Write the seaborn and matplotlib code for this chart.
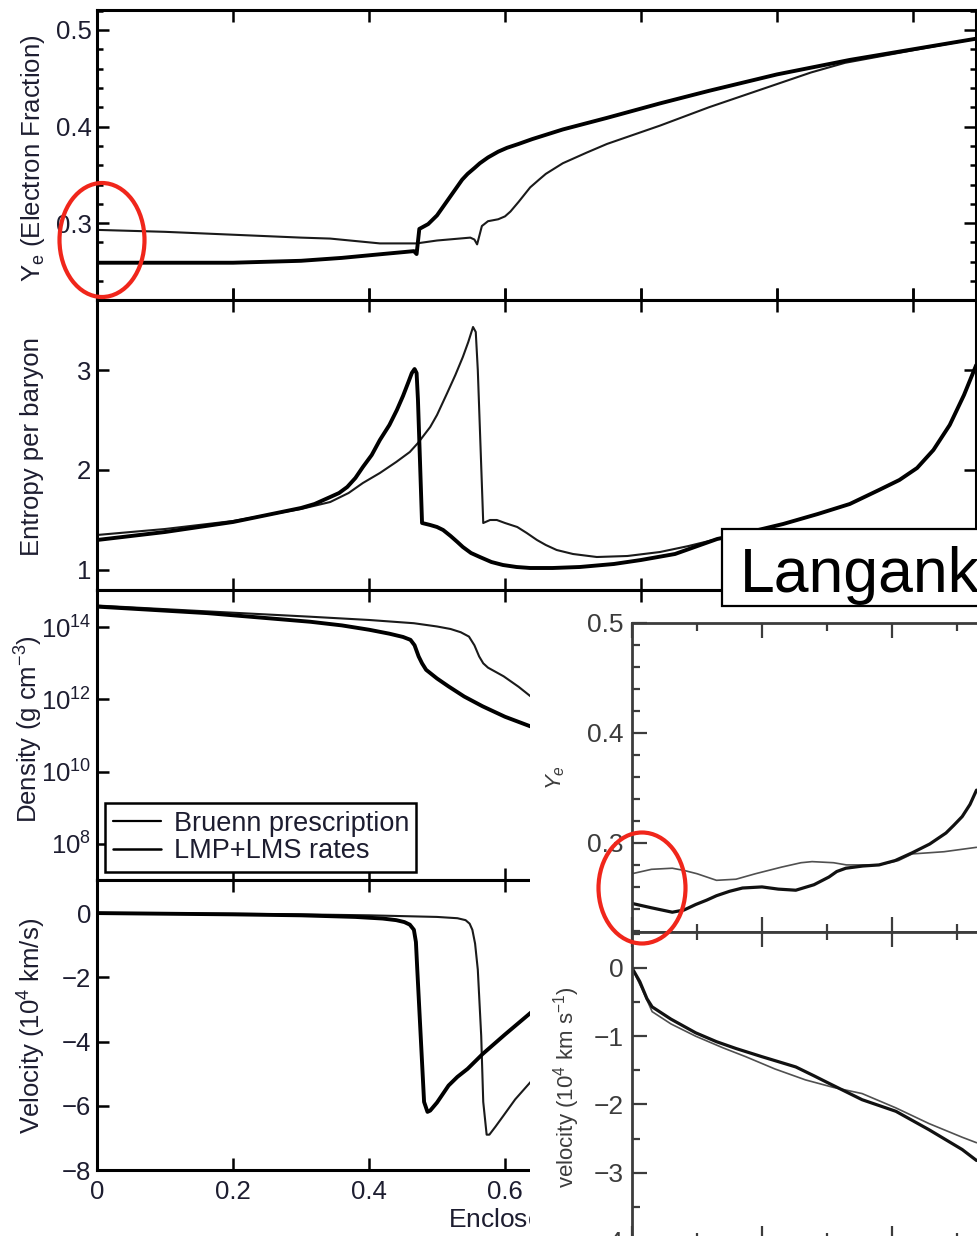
import numpy as np
import matplotlib
matplotlib.use("Agg")
import matplotlib.pyplot as plt
import seaborn as sns
from matplotlib.lines import Line2D
from matplotlib.patches import Rectangle, Ellipse
from matplotlib.ticker import (MultipleLocator, FixedLocator, NullLocator,
                               LogFormatterMathtext, FuncFormatter)

# ---------------------------------------------------------------------------
# Collapse profiles vs. enclosed mass (solar masses)
# "lmp" = LMP+LMS rates (heavy line), "bru" = Bruenn prescription (light line)
# ---------------------------------------------------------------------------
ye_lmp_mass = [0.00, 0.10, 0.20, 0.30, 0.36, 0.42, 0.466, 0.470, 0.474, 0.487, 0.500, 0.510,
               0.520, 0.529, 0.537, 0.545, 0.555, 0.563, 0.575, 0.590, 0.603, 0.620, 0.640,
               0.685, 0.750, 0.828, 0.900, 1.000, 1.107, 1.200, 1.293]
ye_lmp = [0.259, 0.259, 0.259, 0.261, 0.264, 0.268, 0.271, 0.268, 0.294, 0.299, 0.308, 0.318,
          0.328, 0.337, 0.345, 0.351, 0.357, 0.362, 0.368, 0.374, 0.378, 0.382, 0.387,
          0.397, 0.409, 0.424, 0.437, 0.454, 0.469, 0.480, 0.491]
ye_bru_mass = [0.00, 0.10, 0.20, 0.30, 0.343, 0.416, 0.470, 0.500, 0.549, 0.555, 0.559, 0.566,
               0.575, 0.590, 0.600, 0.608, 0.620, 0.637, 0.650, 0.660, 0.685, 0.720, 0.750,
               0.828, 0.900, 1.000, 1.050, 1.100, 1.200, 1.293]
ye_bru = [0.293, 0.291, 0.288, 0.285, 0.284, 0.279, 0.279, 0.282, 0.285, 0.283, 0.278, 0.297,
          0.302, 0.304, 0.307, 0.312, 0.322, 0.337, 0.345, 0.351, 0.362, 0.373, 0.382,
          0.401, 0.420, 0.444, 0.456, 0.466, 0.479, 0.491]

s_lmp_mass = [0.00, 0.10, 0.20, 0.30, 0.320, 0.343, 0.356, 0.368, 0.380, 0.391, 0.404, 0.416,
              0.430, 0.441, 0.450, 0.458, 0.463, 0.467, 0.470, 0.472, 0.478, 0.490, 0.500,
              0.509, 0.520, 0.530, 0.538, 0.550, 0.563, 0.580, 0.597, 0.617, 0.637, 0.670,
              0.710, 0.760, 0.800, 0.850, 0.912, 0.960, 1.009, 1.060, 1.107, 1.150, 1.180,
              1.206, 1.230, 1.254, 1.275, 1.293]
s_lmp = [1.30, 1.38, 1.48, 1.62, 1.66, 1.73, 1.77, 1.83, 1.92, 2.03, 2.15, 2.30,
         2.45, 2.60, 2.74, 2.88, 2.97, 3.01, 2.97, 2.70, 1.47, 1.45, 1.43,
         1.40, 1.34, 1.28, 1.23, 1.17, 1.13, 1.08, 1.05, 1.03, 1.02, 1.02,
         1.03, 1.06, 1.10, 1.16, 1.31, 1.38, 1.46, 1.56, 1.66, 1.80, 1.90,
         2.02, 2.20, 2.45, 2.75, 3.05]
s_bru_mass = [0.00, 0.10, 0.20, 0.30, 0.343, 0.370, 0.391, 0.416, 0.440, 0.460, 0.472, 0.490,
              0.500, 0.515, 0.527, 0.538, 0.546, 0.553, 0.557, 0.560, 0.568, 0.578, 0.588,
              0.600, 0.618, 0.632, 0.647, 0.660, 0.676, 0.700, 0.735, 0.780, 0.828, 0.870,
              0.912]
s_bru = [1.35, 1.41, 1.49, 1.61, 1.68, 1.77, 1.87, 1.97, 2.08, 2.18, 2.27, 2.43,
         2.55, 2.77, 2.95, 3.13, 3.28, 3.43, 3.38, 3.00, 1.47, 1.50, 1.50,
         1.47, 1.43, 1.37, 1.30, 1.25, 1.20, 1.16, 1.13, 1.14, 1.18, 1.24,
         1.31]

# log10 of density in g cm^-3
logrho_lmp_mass = [0.00, 0.162, 0.314, 0.360, 0.400, 0.430, 0.450, 0.461, 0.467, 0.473, 0.478,
                   0.484, 0.500, 0.517, 0.540, 0.567, 0.600, 0.638, 0.700]
logrho_lmp = [14.57, 14.39, 14.15, 14.05, 13.93, 13.82, 13.73, 13.65, 13.50, 13.19, 13.00,
              12.82, 12.58, 12.36, 12.08, 11.81, 11.52, 11.25, 10.90]
logrho_bru_mass = [0.00, 0.15, 0.314, 0.400, 0.466, 0.500, 0.520, 0.535, 0.547, 0.555, 0.562,
                   0.568, 0.575, 0.598, 0.620, 0.638, 0.700]
logrho_bru = [14.60, 14.45, 14.29, 14.20, 14.11, 14.02, 13.95, 13.86, 13.74, 13.50, 13.19,
              13.00, 12.88, 12.64, 12.35, 12.08, 11.40]

# velocity in 10^4 km/s
v_lmp_mass = [0.00, 0.10, 0.20, 0.30, 0.38, 0.42, 0.440, 0.452, 0.460, 0.466, 0.469, 0.471,
              0.476, 0.481, 0.486, 0.490, 0.500, 0.517, 0.530, 0.545, 0.567, 0.600, 0.638,
              0.680]
v_lmp = [0.00, -0.02, -0.04, -0.07, -0.12, -0.17, -0.22, -0.28, -0.36, -0.52, -0.90, -1.76,
         -3.82, -5.88, -6.19, -6.15, -5.90, -5.37, -5.10, -4.85, -4.39, -3.78, -3.10,
         -2.50]
v_bru_mass = [0.00, 0.10, 0.20, 0.30, 0.40, 0.50, 0.530, 0.542, 0.548, 0.552, 0.556, 0.560,
              0.565, 0.568, 0.573, 0.577, 0.586, 0.598, 0.615, 0.638, 0.680]
v_bru = [0.00, -0.01, -0.02, -0.04, -0.07, -0.12, -0.16, -0.22, -0.33, -0.52, -0.95, -1.76,
         -3.82, -5.88, -6.90, -6.90, -6.65, -6.30, -5.80, -5.25, -4.30]

legend_labels = ["Bruenn prescription", "LMP+LMS rates"]

# Second model: electron fraction and velocity
inset_ye_thick_mass = [0.00, 0.030, 0.062, 0.080, 0.098, 0.115, 0.130, 0.150, 0.170, 0.200,
                       0.225, 0.252, 0.280, 0.303, 0.315, 0.329, 0.355, 0.380, 0.405, 0.431,
                       0.458, 0.483, 0.495, 0.508, 0.520, 0.530]
inset_ye_thick = [0.245, 0.241, 0.237, 0.239, 0.244, 0.248, 0.252, 0.256, 0.259, 0.260,
                  0.258, 0.257, 0.262, 0.269, 0.274, 0.277, 0.279, 0.280, 0.284, 0.291,
                  0.299, 0.309, 0.316, 0.324, 0.335, 0.348]
inset_ye_thin_mass = [0.00, 0.030, 0.062, 0.080, 0.100, 0.130, 0.160, 0.190, 0.230, 0.260,
                      0.277, 0.310, 0.330, 0.380, 0.410, 0.431, 0.480, 0.530]
inset_ye_thin = [0.272, 0.276, 0.277, 0.275, 0.272, 0.266, 0.267, 0.272, 0.278, 0.282,
                 0.283, 0.282, 0.280, 0.280, 0.284, 0.290, 0.292, 0.296]
inset_v_thick_mass = [0.00, 0.012, 0.023, 0.031, 0.060, 0.098, 0.130, 0.160, 0.200, 0.252,
                      0.280, 0.303, 0.354, 0.406, 0.457, 0.508, 0.530]
inset_v_thick = [0.00, -0.20, -0.45, -0.57, -0.75, -0.95, -1.08, -1.18, -1.30, -1.45,
                 -1.58, -1.69, -1.93, -2.10, -2.37, -2.66, -2.82]
inset_v_thin_mass = [0.00, 0.015, 0.031, 0.060, 0.098, 0.140, 0.175, 0.220, 0.267, 0.310,
                     0.354, 0.406, 0.457, 0.508, 0.530]
inset_v_thin = [0.00, -0.30, -0.64, -0.82, -1.00, -1.17, -1.30, -1.48, -1.64, -1.75,
                -1.84, -2.05, -2.28, -2.48, -2.56]

# ---------------------------------------------------------------------------
sns.set_theme(style="ticks")
plt.rcParams["font.family"] = ["Liberation Sans", "DejaVu Sans"]
plt.rcParams["mathtext.fontset"] = "custom"
plt.rcParams["mathtext.rm"] = "Liberation Sans"
plt.rcParams["mathtext.it"] = "Liberation Sans:italic"
plt.rcParams["mathtext.bf"] = "Liberation Sans:bold"
plt.rcParams["axes.unicode_minus"] = True
plt.rcParams["lines.solid_joinstyle"] = "round"
plt.rcParams["lines.solid_capstyle"] = "round"

W, H = 977, 1236
fig = plt.figure(figsize=(W / 100, H / 100), dpi=100)
fig.patch.set_facecolor("white")


def px_axes(left, top, right, bottom):
    return fig.add_axes([left / W, 1 - bottom / H, (right - left) / W, (bottom - top) / H])


INK = "#1d1d30"
GREY = "#3c3c3c"
HEAVY, LIGHT = 2.8, 1.5
XMAX = (976 - 97) / 680.0


def line(ax, x, y, lw, color="black"):
    sns.lineplot(x=x, y=y, ax=ax, color=color, linewidth=lw, sort=False,
                 estimator=None, legend=False)


def style_left(ax):
    for sp in ax.spines.values():
        sp.set_linewidth(2.2)
        sp.set_color("black")
    ax.tick_params(which="both", direction="in", top=True, right=True, width=1.8,
                   color="black", labelcolor=INK, labelsize=18.5)
    ax.tick_params(which="major", length=8.5)
    ax.tick_params(which="minor", length=4.3)
    ax.tick_params(axis="y", pad=4)
    ax.tick_params(axis="x", pad=7)
    ax.set_xlim(0, XMAX)
    ax.xaxis.set_major_locator(MultipleLocator(0.2))
    ax.xaxis.set_minor_locator(NullLocator())
    ax.set_facecolor("white")


ax_ye = px_axes(97, 10, 976, 300)
ax_s = px_axes(97, 300, 976, 590)
ax_d = px_axes(97, 590, 976, 880)
ax_v = px_axes(97, 880, 976, 1170)

# electron fraction
line(ax_ye, ye_bru_mass, ye_bru, LIGHT, "#1a1a1a")
line(ax_ye, ye_lmp_mass, ye_lmp, HEAVY)
style_left(ax_ye)
ax_ye.set_ylim(0.2204, 0.5207)
ax_ye.yaxis.set_major_locator(MultipleLocator(0.1))
ax_ye.yaxis.set_minor_locator(MultipleLocator(0.02))
ax_ye.tick_params(labelbottom=False)
ax_ye.set_xlabel("")
ax_ye.set_ylabel(r"Y$_{\rm e}$ (Electron Fraction)", fontsize=18.5, color=INK)
ax_ye.yaxis.set_label_coords(-0.057, 0.49)

# entropy
line(ax_s, s_bru_mass, s_bru, LIGHT, "#1a1a1a")
line(ax_s, s_lmp_mass, s_lmp, HEAVY)
style_left(ax_s)
ax_s.set_ylim(0.8, 3.7)
ax_s.yaxis.set_major_locator(MultipleLocator(1))
ax_s.yaxis.set_minor_locator(NullLocator())
ax_s.tick_params(labelbottom=False)
ax_s.tick_params(axis="x", which="major", bottom=True, direction="inout", length=17)
ax_s.set_xlabel("")
ax_s.set_ylabel("Entropy per baryon", fontsize=18.5, color=INK)
ax_s.yaxis.set_label_coords(-0.060, 0.493)

# density
line(ax_d, logrho_bru_mass, 10 ** np.array(logrho_bru), LIGHT, "#1a1a1a")
line(ax_d, logrho_lmp_mass, 10 ** np.array(logrho_lmp), HEAVY)
ax_d.set_yscale("log")
style_left(ax_d)
ax_d.set_ylim(10 ** 7.0, 10 ** 15.03)
ax_d.yaxis.set_major_locator(FixedLocator([1e8, 1e10, 1e12, 1e14]))
ax_d.yaxis.set_major_formatter(LogFormatterMathtext())
ax_d.yaxis.set_minor_locator(NullLocator())
ax_d.tick_params(labelbottom=False)
ax_d.set_xlabel("")
ax_d.set_ylabel(r"Density (g cm$^{-3}$)", fontsize=18.5, color=INK)
ax_d.yaxis.set_label_coords(-0.059, 0.52)
handles = [Line2D([], [], color="black", lw=1.6), Line2D([], [], color="black", lw=1.8)]
leg = ax_d.legend(handles, legend_labels, loc="lower left", bbox_to_anchor=(0.0091, 0.0286),
                  borderaxespad=0, fontsize=19.5, frameon=True, fancybox=False,
                  edgecolor="black", framealpha=1, handlelength=1.8, handletextpad=0.45,
                  borderpad=0.28, labelspacing=0.05)
leg.get_frame().set_linewidth(1.8)
for t in leg.get_texts():
    t.set_color(INK)

# velocity
line(ax_v, v_bru_mass, v_bru, LIGHT, "#1a1a1a")
line(ax_v, v_lmp_mass, v_lmp, HEAVY)
style_left(ax_v)
ax_v.set_ylim(-8, 1.03)
ax_v.yaxis.set_major_locator(MultipleLocator(2))
ax_v.yaxis.set_minor_locator(NullLocator())
ax_v.xaxis.set_major_formatter(FuncFormatter(lambda v, _: "0" if abs(v) < 1e-9 else f"{v:.1f}"))
ax_v.set_ylabel(r"Velocity (10$^4$ km/s)", fontsize=18.5, color=INK)
ax_v.yaxis.set_label_coords(-0.0557, 0.497)
ax_v.set_xlabel(r"Enclosed Mass (M$_\odot$)", fontsize=19, color=INK, ha="left", va="top")
ax_v.xaxis.set_label_coords((448 - 97) / 879, -0.125)

# white backing for the second model's panels
fig.add_artist(Rectangle((530 / W, 0), (W - 530) / W, (H - 603) / H, transform=fig.transFigure,
                         facecolor="white", edgecolor="none", zorder=1))

# second model panels
axi_ye = px_axes(632, 623, 1282, 932)
axi_v = px_axes(632, 932, 1282, 1241)
for ax in (axi_ye, axi_v):
    ax.set_zorder(2)
    ax.set_facecolor("white")

line(axi_ye, inset_ye_thin_mass, inset_ye_thin, 1.2, "#505050")
line(axi_ye, inset_ye_thick_mass, inset_ye_thick, 2.3, "#111111")
line(axi_v, inset_v_thin_mass, inset_v_thin, 1.2, "#505050")
line(axi_v, inset_v_thick_mass, inset_v_thick, 2.3, "#111111")

for ax in (axi_ye, axi_v):
    for sp in ax.spines.values():
        sp.set_linewidth(2.0)
        sp.set_color(GREY)
    ax.set_xlim(0, 1.0)
    ax.xaxis.set_major_locator(MultipleLocator(0.2))
    ax.xaxis.set_minor_locator(MultipleLocator(0.1))
    ax.tick_params(which="both", direction="in", top=True, right=True, width=1.6,
                   color=GREY, labelcolor=GREY, labelsize=19, pad=6, labelbottom=False)
    ax.tick_params(which="major", length=11)
    ax.tick_params(which="minor", length=6)
    ax.set_xlabel("")

axi_ye.set_ylim(0.219, 0.5)
axi_ye.yaxis.set_major_locator(MultipleLocator(0.1))
axi_ye.yaxis.set_minor_locator(MultipleLocator(0.02))
axi_ye.set_ylabel(r"$Y_e$", fontsize=16, color=GREY)
axi_ye.yaxis.set_label_coords(-0.100, 0.5)

axi_v.set_ylim(-4, 0.527)
axi_v.yaxis.set_major_locator(MultipleLocator(1))
axi_v.yaxis.set_minor_locator(MultipleLocator(0.5))
axi_v.set_ylabel(r"velocity (10$^4$ km s$^{-1}$)", fontsize=16, color=GREY)
axi_v.yaxis.set_label_coords(-0.077, 0.498)

# caption box
fig.add_artist(Rectangle((722 / W, 1 - 606 / H), 300 / W, 77 / H, transform=fig.transFigure,
                         facecolor="white", edgecolor="black", lw=1.6, zorder=3))
fig.text(740 / W, 1 - 592 / H, "Langanke", fontsize=45, color="black", ha="left",
         va="baseline", zorder=4)

# highlight rings around the central values
for cx, cy, w, h in [(102, 240, 85, 114), (642, 888, 87, 111)]:
    fig.add_artist(Ellipse((cx / W, 1 - cy / H), w / W, h / H, transform=fig.transFigure,
                           fill=False, edgecolor="#f0261b", lw=3.0, zorder=5))

fig.savefig("out.png", dpi=100, facecolor="white")
